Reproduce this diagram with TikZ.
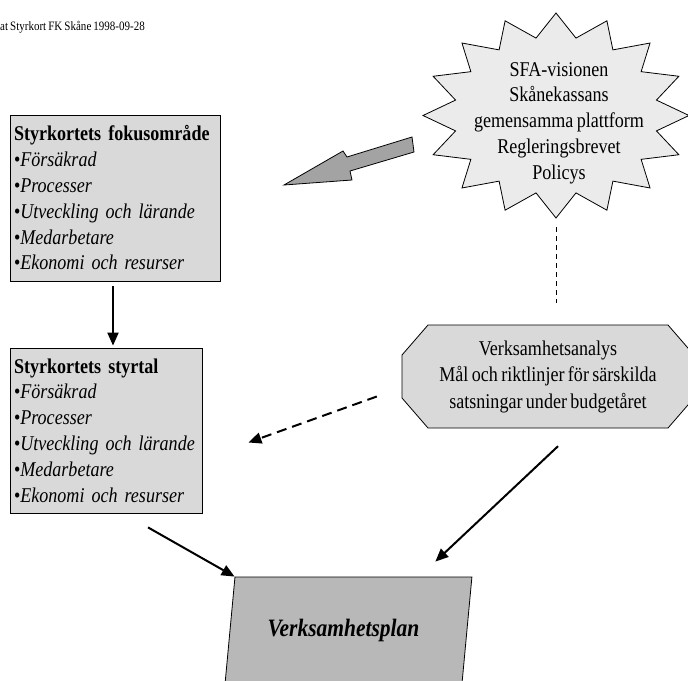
\documentclass[tikz,border=0pt]{standalone}
\usepackage{fontspec}
\setmainfont{Liberation Serif}[FakeStretch=0.86, WordSpace=0.75]
\usetikzlibrary{shapes.geometric,arrows.meta,calc}

\definecolor{boxgray}{gray}{0.85}
\definecolor{stargray}{gray}{0.92}
\definecolor{plangray}{gray}{0.72}
\definecolor{blockgray}{gray}{0.64}

\begin{document}
\begin{tikzpicture}[x=1pt, y=-1pt, % one unit is one pixel, y grows downwards
    font=\fontsize{21}{25.8}\selectfont,
    listbox/.style={draw, line width=0.8pt, fill=boxgray, align=left,
      inner xsep=4pt, inner ysep=0pt}, % grey boxes with the lists
    conn/.style={line width=2pt, -{Triangle[length=13pt, width=11pt]}}
%    ,conn/.style={-latex, thick}
   ]
    \useasboundingbox (0,0) rectangle (688,680);

    \node[anchor=west, inner sep=0pt, font=\fontsize{12.8}{14}\selectfont] (stamp)
        at (0,27) {at Styrkort FK Skåne 1998-09-28};

    \node[listbox, text width=202pt, minimum height=166pt] (fokus) at (115,198)
        {\textbf{Styrkortets fokusområde}\\
         •\textit{Försäkrad}\\
         •\textit{Processer}\\
         •\textit{Utveckling och lärande}\\
         •\textit{Medarbetare}\\
         •\textit{Ekonomi och resurser}};
    \node[listbox, text width=184pt, minimum height=165pt] (styrtal) at (106,430.5)
        {\textbf{Styrkortets styrtal}\\
         •\textit{Försäkrad}\\
         •\textit{Processer}\\
         •\textit{Utveckling och lärande}\\
         •\textit{Medarbetare}\\
         •\textit{Ekonomi och resurser}};

    % the star, 16 points
    \begin{scope}[shift={(556,115.5)}, x=133pt, y=102.5pt]
      \draw[line width=0.8pt, fill=stargray] (90:1)
        \foreach \k in {1,...,31} { -- ({90+11.25*\k}:{1-0.23*mod(\k,2)}) } -- cycle;
      \coordinate (starbottom) at (270:1);
    \end{scope}
    \node[align=center] (vision) at (559,123)
        {SFA-visionen\\Skånekassans\\gemensamma plattform\\Regleringsbrevet\\Policys};

    % the octagon, cut by the right margin
    \draw[line width=0.8pt, fill=boxgray] (428,325) -- (668,325) -- (694,355) -- (694,398)
        -- (668,428) -- (428,428) -- (402,398) -- (402,355) -- cycle;
    \node[minimum width=292pt, minimum height=103pt, inner sep=0pt, align=center,
        font=\fontsize{21}{26.5}\selectfont] (analys) at (548,376.5)
        {Verksamhetsanalys\\Mål och riktlinjer för särskilda\\satsningar under budgetåret};

    \node[trapezium, trapezium left angle=77.6, trapezium right angle=102.4,
        trapezium stretches=true, draw, line width=0.8pt, fill=plangray,
        minimum width=247pt, minimum height=106pt,
        font=\fontsize{25}{28}\selectfont\bfseries\itshape] (plan) at (348.5,630)
        {\hspace*{-10pt}Verksamhetsplan};

    % block arrow
    \draw[line width=0.8pt, fill=blockgray] (412,137) -- (414,152) -- (350,171)
        -- (352,180) -- (284,185) -- (343,151) -- (347,157) -- cycle;

    \draw[line width=0.8pt, dash pattern=on 5pt off 4pt]
        ($(starbottom)+(0,9)$) -- ($(starbottom |- analys.north)+(0,-22)$);
    \draw[conn] ($(fokus.south)+(-2,5)$) -- ($(fokus.south |- styrtal.north)+(-2,-2)$);
    \draw[conn] ($(styrtal.south)+(42,14)$) -- (plan.top left corner);
    \draw[conn, dash pattern=on 10pt off 6pt]
        ($(analys.west)+(-25,20)$) -- ($(styrtal.east)+(46,12)$);
    \draw[conn] ($(analys.south)+(10,18)$) -- ($(plan.top right corner)+(-37,-15)$);
  \end{tikzpicture}
\end{document}
